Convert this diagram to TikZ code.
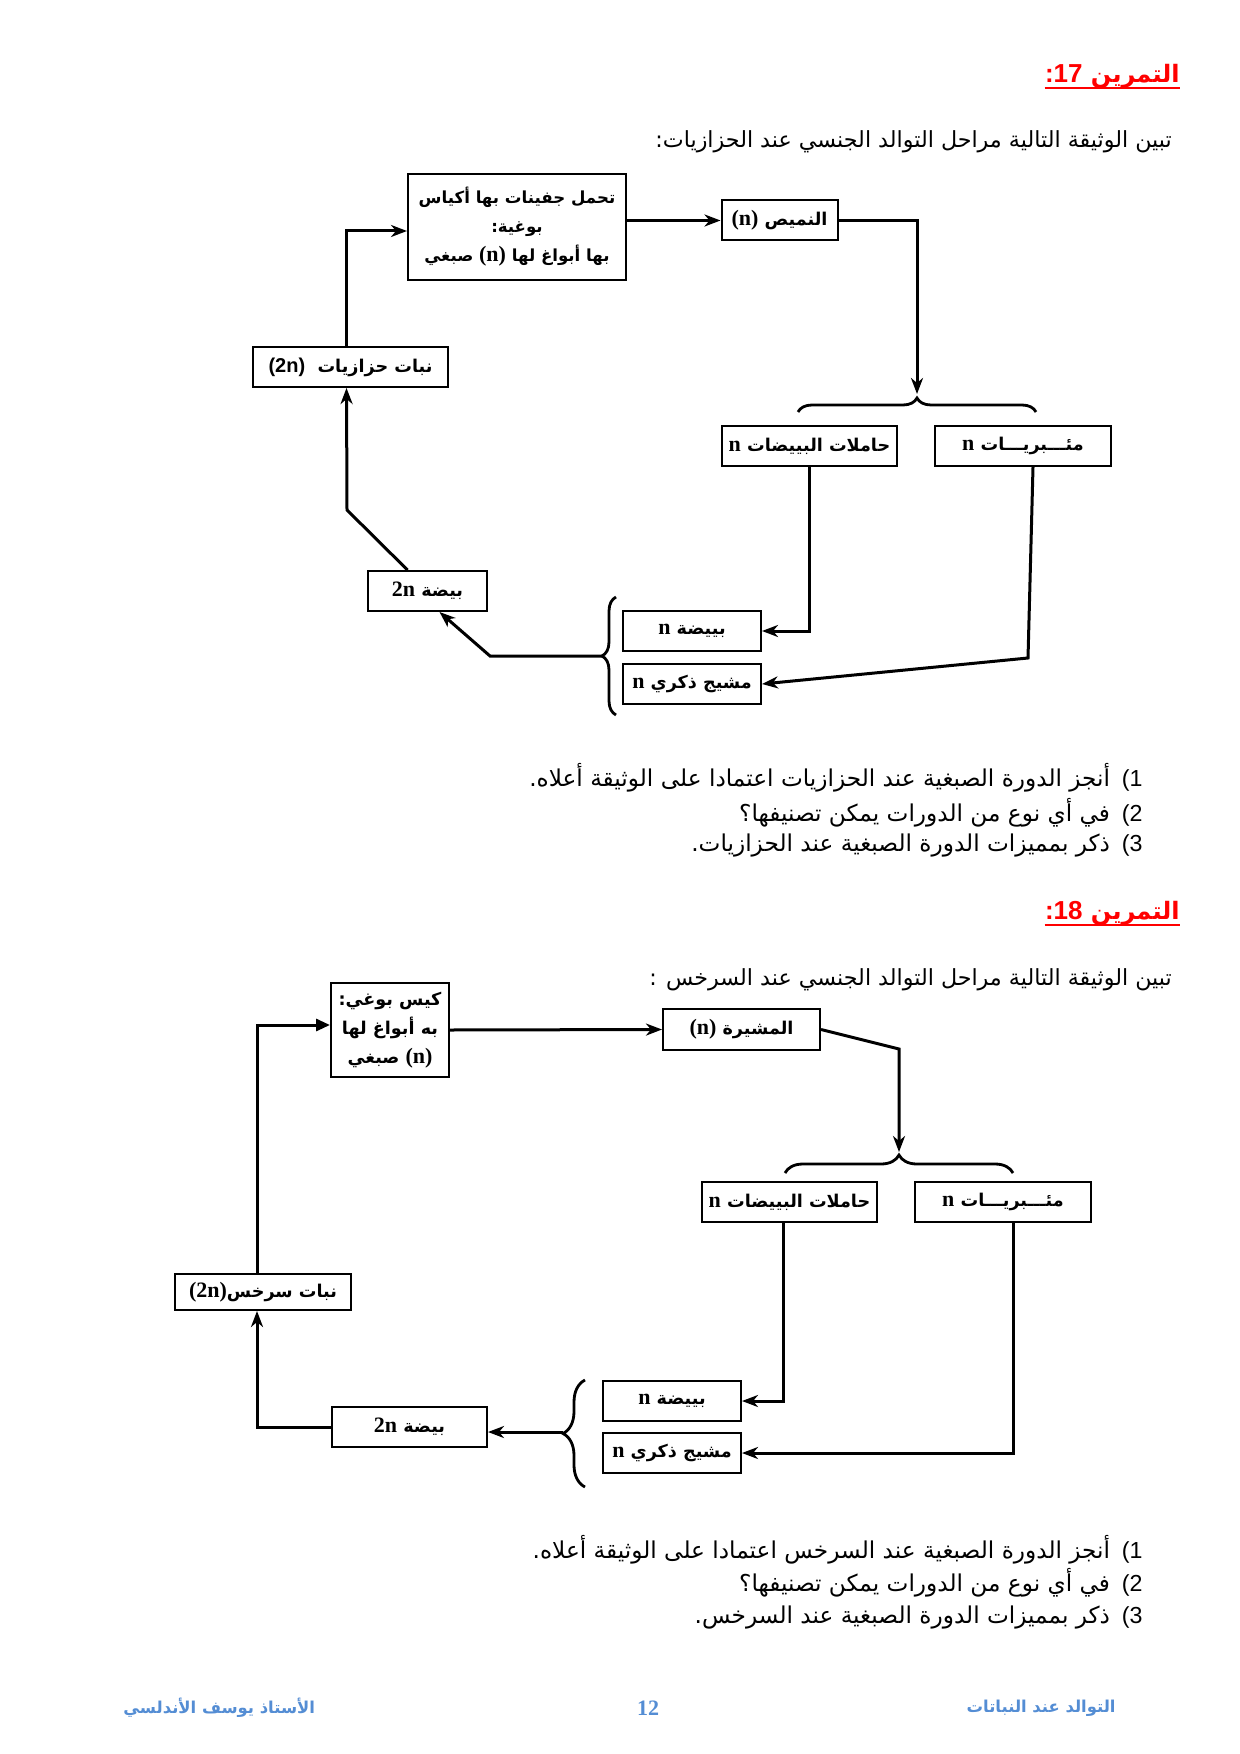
\documentclass[tikz,border=0pt]{standalone}
\usepackage{fontspec}
\usetikzlibrary{arrows.meta,decorations.pathreplacing}
\TeXXeTstate=1
\newfontfamily\ar[Script=Arabic]{DejaVu Sans}
\newfontfamily\lat{Liberation Sans}
\newfontfamily\tim{Liberation Serif}
\definecolor{foot}{RGB}{84,141,212}
\newcommand{\myR}[1]{\beginR #1\endR}
\newcommand{\tn}[1]{{\tim\bfseries\fontsize{11}{14}\selectfont #1}}
\tikzset{
  x=0.5pt, y=-0.5pt,
  box/.style={draw, line width=1pt, inner sep=1pt, align=center,
    font=\ar\bfseries\fontsize{8.8}{14.5}\selectfont},
  conn/.style={line width=1.5pt},
  arr/.style={conn, -{Stealth[length=8pt,width=6pt,inset=2.5pt]}},
  arrf/.style={conn, -{Triangle[length=7pt,width=6pt]}},
  brc/.style={decorate, decoration={brace, amplitude=#1, aspect=0.5}, line width=1.4pt},
  txt/.style={inner sep=0pt, font=\ar\fontsize{11.6}{14}\selectfont},
  intro/.style={inner sep=0pt, font=\ar\fontsize{11.1}{14}\selectfont},
  ttl/.style={inner sep=0pt, text=red, font=\ar\bfseries\fontsize{12}{14}\selectfont},
  ftr/.style={inner sep=0pt, text=foot, font=\ar\bfseries\fontsize{8.2}{11}\selectfont}
}
\begin{document}
\begin{tikzpicture}
\fill[white] (0,0) rectangle (1240,1754);
\useasboundingbox (0,0) rectangle (1240,1754);

% ---------- Exercise 17 ----------
\node[ttl, anchor=east] (t17) at (1180,76) {{\lat\bfseries\fontsize{13}{14}\selectfont :17} \myR{التمرين}};
\draw[red, line width=1pt] ([yshift=-3pt]t17.base west) -- ([yshift=-3pt]t17.base east);
\node[intro, anchor=east] (i17) at (1172,142) {:\myR{تبين الوثيقة التالية مراحل التوالد الجنسي عند الحزازيات}};

\node[box, font=\ar\bfseries\fontsize{8.3}{14.5}\selectfont, minimum width=109pt, minimum height=53pt] (A) at (517,227)
  {\myR{تحمل جفينات بها أكياس}\\ :\myR{بوغية}\\ \myR{صبغي} \tn{(n)} \myR{بها أبواغ لها}};
\node[box, minimum width=58pt, minimum height=20pt] (B) at (779.5,220.5) {\tn{(n)} \myR{النميص}};
\node[box, minimum width=97.5pt, minimum height=20pt] (C) at (350.5,367) {{\lat\bfseries\fontsize{10}{14}\selectfont (2n)}\ \ \myR{نبات حزازيات}};
\node[box, minimum width=87.5pt, minimum height=20pt] (D) at (809.5,446) {\tn{n} \myR{حاملات البييضات}};
\node[box, minimum width=88pt, minimum height=20pt] (E) at (1023,446) {\tn{n} \myR{مئـــبريـــات}};
\node[box, minimum width=59.5pt, minimum height=20pt] (F) at (427.5,591) {\tn{2n} \myR{بيضة}};
\node[box, minimum width=69pt, minimum height=20pt] (G) at (692,631) {\tn{n} \myR{بييضة}};
\node[box, minimum width=69pt, minimum height=20pt] (H) at (692,684) {\tn{n} \myR{مشيج ذكري}};

\coordinate (b1tip) at (917,394);
\coordinate (eh) at (1028,658);
\coordinate (lb1) at (602,656);
\coordinate (k1) at (490,656);
\coordinate (k2) at (347,510);

\draw[arr] (A.east |- B.west) -- (B.west);
\draw[arr] (B.east) -| (b1tip);
\draw[brc=7pt] (798,412) -- (1036,412);
\draw[arr] (D.south) -- (D.south |- G.east) -- (G.east);
\draw[arr] ([xshift=5pt]E.south) -- (eh) -- (H.east);
\draw[brc=7pt] (616,715) -- (616,597);
\draw[arr] (lb1) -- (k1) -- ([xshift=6pt]F.south);
\draw[arr] ([xshift=-10pt]F.north) -- (k2) -- ([xshift=-2pt]C.south);
\draw[arr] ([xshift=-2pt]C.north) |- ([yshift=-2pt]A.west);

\node[txt, anchor=east] (q171) at (1143,778) {.\myR{أنجز الدورة الصبغية عند الحزازيات اعتمادا على الوثيقة أعلاه}\hspace{6pt}{\lat (1}};
\node[txt, anchor=east] (q172) at (1143,813) {؟\myR{في أي نوع من الدورات يمكن تصنيفها}\hspace{6pt}{\lat (2}};
\node[txt, anchor=east] (q173) at (1143,846) {.\myR{ذكر بمميزات الدورة الصبغية عند الحزازيات}\hspace{6pt}{\lat (3}};

% ---------- Exercise 18 ----------
\node[ttl, anchor=east] (t18) at (1180,913) {{\lat\bfseries\fontsize{13}{14}\selectfont :18} \myR{التمرين}};
\draw[red, line width=1pt] ([yshift=-3pt]t18.base west) -- ([yshift=-3pt]t18.base east);
\node[intro, anchor=east] (i18) at (1172,980) {: \myR{تبين الوثيقة التالية مراحل التوالد الجنسي عند السرخس}};

\node[box, minimum width=59pt, minimum height=47pt] (A2) at (390,1030)
  {:\myR{كيس بوغي}\\ \myR{به أبواغ لها}\\ \myR{صبغي} \tn{(n)}};
\node[box, minimum width=78.5pt, minimum height=20.5pt] (B2) at (741.5,1029.5) {\tn{(n)} \myR{المشيرة}};
\node[box, minimum width=88pt, minimum height=18pt] (C2) at (263,1292) {\tn{(2n)}\myR{نبات سرخس}};
\node[box, minimum width=87.5pt, minimum height=20pt] (D2) at (789.5,1202) {\tn{n} \myR{حاملات البييضات}};
\node[box, minimum width=88pt, minimum height=20pt] (E2) at (1003,1202) {\tn{n} \myR{مئـــبريـــات}};
\node[box, minimum width=77.5pt, minimum height=20pt] (F2) at (409.5,1427) {\tn{2n} \myR{بيضة}};
\node[box, minimum width=69pt, minimum height=20pt] (G2) at (672,1401) {\tn{n} \myR{بييضة}};
\node[box, minimum width=69pt, minimum height=20pt] (H2) at (672,1453) {\tn{n} \myR{مشيج ذكري}};

\coordinate (b2k) at (899,1049);
\coordinate (b2tip) at (899,1152);
\coordinate (lb2) at (563,1432);

\draw[arr] (A2.east) -- (B2.west);
\draw[arr] (B2.east) -- (b2k) -- (b2tip);
\draw[brc=9pt] (785,1173) -- (1013,1173);
\draw[arr] ([xshift=-3pt]D2.south) |- (G2.east);
\draw[arr] ([xshift=5pt]E2.south) |- (H2.east);
\draw[brc=11pt] (585,1487) -- (585,1380);
\draw[arr] (lb2) -- (F2.east |- lb2);
\draw[arr] (F2.west) -| ([xshift=-3pt]C2.south);
\draw[arrf] ([xshift=-3pt]C2.north) |- ([yshift=2.5pt]A2.west);

\node[txt, anchor=east] (q181) at (1143,1550) {.\myR{أنجز الدورة الصبغية عند السرخس اعتمادا على الوثيقة أعلاه}\hspace{6pt}{\lat (1}};
\node[txt, anchor=east] (q182) at (1143,1583) {؟\myR{في أي نوع من الدورات يمكن تصنيفها}\hspace{6pt}{\lat (2}};
\node[txt, anchor=east] (q183) at (1143,1617) {.\myR{ذكر بمميزات الدورة الصبغية عند السرخس}\hspace{6pt}{\lat (3}};

% ---------- Footer ----------
\node[ftr, anchor=west] (f1) at (123,1708) {\myR{الأستاذ يوسف الأندلسي}};
\node[ftr] (f2) at (648,1708) {{\tim\bfseries\fontsize{11}{12}\selectfont 12}};
\node[ftr, anchor=east] (f3) at (1116,1708) {\myR{التوالد عند النباتات}};
\end{tikzpicture}
\end{document}
